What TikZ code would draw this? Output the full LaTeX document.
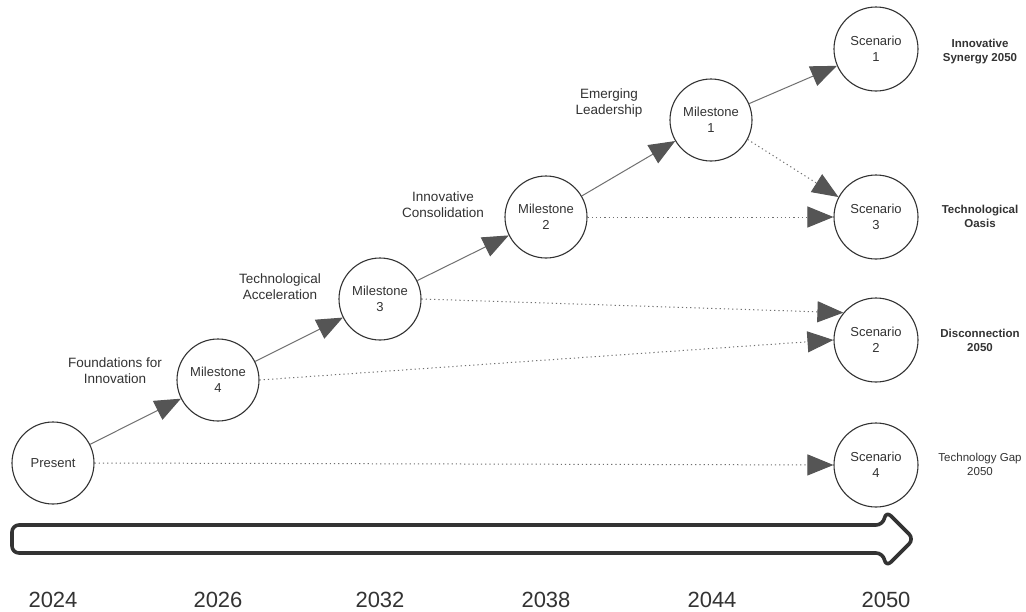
\documentclass[tikz,border=0pt]{standalone}
\usepackage{fontspec}
\setmainfont{Liberation Sans}
\usetikzlibrary{arrows.meta}
\definecolor{ink}{HTML}{333333}
\definecolor{edge}{HTML}{707070}
\definecolor{headfill}{HTML}{555555}
\begin{document}
\begin{tikzpicture}[x=1pt,y=-1pt,
  stage/.style={circle,draw=ink,line width=1.1pt,fill=white,minimum size=82pt,inner sep=0pt,
    align=center,text=ink,font=\fontsize{13}{16}\selectfont},
  steplabel/.style={align=center,text=ink,font=\fontsize{13.5}{16}\selectfont},
  outcome/.style={align=center,text=ink,font=\fontsize{11.5}{14}\selectfont\bfseries},
  outcomelight/.style={align=center,text=ink,font=\fontsize{11.5}{14}\selectfont},
  yearlabel/.style={text=ink,font=\fontsize{22}{24}\selectfont},
  tip/.style={-{Triangle[length=26pt,width=21pt,fill=headfill,color=headfill]}},
  path/.style={tip,draw=edge,line width=1pt},
  branch/.style={tip,draw=edge,line width=1pt,dash pattern=on 1.2pt off 3pt},
]
\useasboundingbox (0,0) rectangle (1026,611);
\fill[white] (0,0) rectangle (1026,611);

% stages
\node[stage] (present) at (53,463) {Present};
\node[stage] (m4) at (218,380) {Milestone\\4};
\node[stage] (m3) at (380,299) {Milestone\\3};
\node[stage] (m2) at (546,217) {Milestone\\2};
\node[stage] (m1) at (711,120) {Milestone\\1};
\node[stage,minimum size=84pt] (s1) at (876,49) {Scenario\\1};
\node[stage,minimum size=84pt] (s3) at (876,217) {Scenario\\3};
\node[stage,minimum size=84pt] (s2) at (876,340) {Scenario\\2};
\node[stage,minimum size=84pt] (s4) at (876,465) {Scenario\\4};

% step labels
\node[steplabel] (l1) at (115,371) {Foundations for\\Innovation};
\node[steplabel] (l2) at (280,287) {Technological\\Acceleration};
\node[steplabel] (l3) at (443,205) {Innovative\\Consolidation};
\node[steplabel] (l4) at (609,103) {Emerging\\Leadership};

% scenario names
\node[outcome] (n1) at (980,52) {Innovative\\Synergy 2050};
\node[outcome] (n3) at (980,216) {Technological\\Oasis};
\node[outcome] (n2) at (980,340) {Disconnection\\2050};
\node[outcomelight] (n4) at (980,464) {Technology Gap\\2050};

% main path
\draw[path] (present) -- (m4);
\draw[path] (m4) -- (m3);
\draw[path] (m3) -- (m2);
\draw[path] (m2) -- (m1);
\draw[path] (m1) -- (s1);

% alternative branches
\draw[branch] (present.east) -- (s4.west);
\draw[branch] (m4.east) -- (s2.west);
\draw[branch] (m3.east) -- (s2.140);
\draw[branch] (m2.east) -- (s3.west);
\draw[branch] (m1.-28) -- (s3.152);

% timeline arrow
\draw[ink,line width=3.6pt,line join=round,rounded corners=7pt]
  (883,525) -- (12,525) -- (12,553) -- (883,553) -- (886,567) -- (914,539) -- (886,511) -- cycle;

% years
\node[yearlabel] (y0) at (53,600) {2024};
\node[yearlabel] (y1) at (218,600) {2026};
\node[yearlabel] (y2) at (380,600) {2032};
\node[yearlabel] (y3) at (546,600) {2038};
\node[yearlabel] (y4) at (712,600) {2044};
\node[yearlabel] (y5) at (886,600) {2050};
\end{tikzpicture}
\end{document}
